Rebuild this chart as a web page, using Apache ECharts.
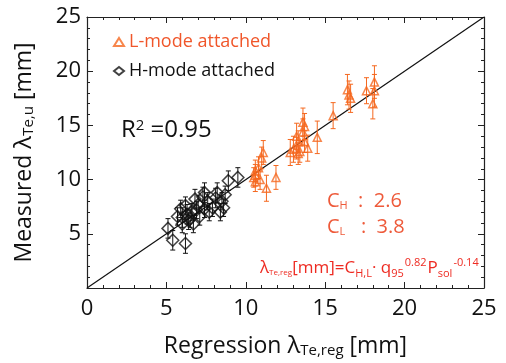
<!DOCTYPE html>
<html><head><meta charset="utf-8">
<script src="https://cdn.jsdelivr.net/npm/echarts@6/dist/echarts.min.js"></script>
<style>html,body{margin:0;padding:0;background:#fff}#c{width:506px;height:363px}</style>
</head><body><div id="c"></div>
<script>
// L-mode attached: regression x, measured y, error (±)
var lModeX = [10.6,10.6,10.6,10.8,11.1,11.0,11.3,11.9,12.8,13.0,13.3,13.2,13.4,13.9,13.2,13.3,13.7,13.6,13.7,13.6,14.5,15.5,16.4,16.5,16.6,17.6,18.1,18.1,18.0,10.5,10.9];
var lModeY = [10.8,10.4,9.8,11.1,12.5,12.0,9.2,10.2,12.5,12.8,12.4,12.9,12.6,12.9,14.0,13.5,13.5,14.4,14.9,15.3,13.9,15.9,18.3,17.8,17.5,18.2,19.0,18.2,17.0,10.2,10.0];
var lModeErr = [1.0,1.0,0.9,1.0,1.1,1.0,1.2,1.1,1.2,1.2,1.0,1.0,1.0,1.2,1.2,1.0,1.0,1.2,1.2,1.3,1.5,1.2,1.4,1.3,1.3,1.2,1.5,1.5,1.4,0.9,0.9];
// H-mode attached
var hModeX = [5.1,5.4,6.2,6.0,6.0,6.3,6.4,6.7,6.8,7.0,7.3,7.4,7.6,7.7,7.9,8.1,8.2,8.5,8.6,8.4,8.9,9.5,5.9,6.5,5.7,6.6,7.1,7.4,8.7,6.2,6.9];
var hModeY = [5.5,4.4,4.1,5.9,6.5,6.8,6.2,5.9,8.2,7.7,8.4,8.8,8.0,7.0,7.4,8.3,8.8,8.0,7.4,7.0,9.9,10.2,7.3,6.4,6.6,7.0,6.6,7.3,8.6,7.6,7.2];
var hModeErr = [0.9,0.9,0.9,0.8,0.9,0.9,0.8,0.8,0.9,0.8,0.9,0.9,0.8,0.8,0.8,0.9,0.9,0.8,0.8,0.8,0.9,0.9,0.8,0.8,0.8,0.8,0.8,0.8,0.8,0.8,0.8];
var xTicks = [0,5,10,15,20,25];
var fitLine = [[0,0],[25,25]];

var orange = '#f5681f';
function pts(xs, ys, es){ return xs.map(function(x,i){return [x, ys[i], ys[i]-es[i], ys[i]+es[i]];}); }
function errRender(color){
  return function(params, api){
    var x = api.value(0), lo = api.value(2), hi = api.value(3);
    var p1 = api.coord([x, lo]), p2 = api.coord([x, hi]);
    var w = 2.5;
    var st = {stroke: color, lineWidth: 1};
    return {type:'group', children:[
      {type:'line', shape:{x1:p1[0],y1:p1[1],x2:p2[0],y2:p2[1]}, style:st},
      {type:'line', shape:{x1:p1[0]-w,y1:p1[1],x2:p1[0]+w,y2:p1[1]}, style:st},
      {type:'line', shape:{x1:p2[0]-w,y1:p2[1],x2:p2[0]+w,y2:p2[1]}, style:st}
    ]};
  };
}
var font = 'Open Sans';
var red = '#ee2b22', cRed = '#ee5a3a';
var chart = echarts.init(document.getElementById('c'));
var axisCommon = {
  type:'value', min:0, max:25, interval:5,
  axisLine:{show:true, onZero:false, lineStyle:{color:'#222', width:1.2}},
  axisTick:{show:true, inside:true, length:6, lineStyle:{color:'#222'}},
  minorTick:{show:true, splitNumber:5, length:3, lineStyle:{color:'#222'}},
  splitLine:{show:false}
};
var nameRich = {l:{fontSize:24, color:'#111', fontFamily:font}, s:{fontSize:15, color:'#111', fontFamily:font, padding:[9,0,0,0]}};
chart.setOption({
  animation:false,
  textStyle:{fontFamily:font},
  grid:{left:87, right:22, top:17, bottom:67},
  legend:{
    left:108, top:28, orient:'vertical', itemGap:11, itemWidth:10, itemHeight:8,
    textStyle:{fontFamily:font, fontSize:18},
    data:[{name:'L-mode attached', textStyle:{color:'#f0562a'}},
          {name:'H-mode attached', textStyle:{color:'#111'}}]
  },
  xAxis:[
    Object.assign({}, axisCommon, {position:'bottom',
      axisLabel:{fontSize:22, color:'#111', margin:10, fontFamily:font},
      name:'Regression {l|λ}{s|Te,reg} [mm]', nameLocation:'middle', nameGap:46,
      nameTextStyle:{fontSize:23, color:'#111', fontFamily:font, rich:nameRich}
    }),
    Object.assign({}, axisCommon, {position:'top', axisLabel:{show:false}})
  ],
  yAxis:[
    Object.assign({}, axisCommon, {position:'left',
      axisLabel:{fontSize:22, color:'#111', margin:6, fontFamily:font,
        formatter:function(v){return v===0?'':String(v);}},
      name:'Measured {l|λ}{s|Te,u} [mm]', nameLocation:'middle', nameGap:51,
      nameTextStyle:{fontSize:23, color:'#111', fontFamily:font, rich:nameRich}
    }),
    Object.assign({}, axisCommon, {position:'right', axisLabel:{show:false}})
  ],
  series:[
    {type:'line', data:fitLine, symbol:'none', lineStyle:{color:'#111', width:1.2}, silent:true, z:1},
    {type:'scatter', name:'L-mode attached', data:lModeX.map(function(x,i){return [x,lModeY[i]];}),
      symbol:'triangle', symbolSize:8, itemStyle:{color:'rgba(255,255,255,0)', borderColor:orange, borderWidth:1.5}, z:3},
    {type:'scatter', name:'H-mode attached', data:hModeX.map(function(x,i){return [x,hModeY[i]];}),
      symbol:'diamond', symbolSize:12, itemStyle:{color:'rgba(255,255,255,0)', borderColor:'#111', borderWidth:1.5}, z:3},
    {type:'custom', name:'L-err', data:pts(lModeX,lModeY,lModeErr), renderItem:errRender(orange), encode:{x:0,y:[1,2,3]}, z:2},
    {type:'custom', name:'H-err', data:pts(hModeX,hModeY,hModeErr), renderItem:errRender('#111'), encode:{x:0,y:[1,2,3]}, z:2}
  ],
  graphic:[
    {type:'text', left:121, top:118, style:{text:'R{sup|2} =0.95', fontSize:24, fill:'#111', fontFamily:font,
      rich:{sup:{fontSize:15, fill:'#111', fontFamily:font, padding:[0,0,10,0]}}}},
    {type:'text', left:327, top:191, style:{text:'C{sub|H}  :  2.6', fontSize:20, fill:cRed, fontFamily:font,
      rich:{sub:{fontSize:11, fill:cRed, fontFamily:font, padding:[10,0,0,0]}}}},
    {type:'text', left:327, top:217, style:{text:'C{sub|L}   :  3.8', fontSize:20, fill:cRed, fontFamily:font,
      rich:{sub:{fontSize:11, fill:cRed, fontFamily:font, padding:[10,0,0,0]}}}},
    {type:'text', left:260, top:257, style:{text:'λ{tiny|Te,reg}[mm]=C{sub|H,L}· q{sub|95}{sup|0.82}P{sub|sol}{sup|-0.14}', fontSize:17, fill:red, fontFamily:font,
      rich:{tiny:{fontSize:8, fill:red, fontFamily:font, padding:[10,0,0,0]},
            sub:{fontSize:11, fill:red, fontFamily:font, padding:[11,0,0,0]},
            sup:{fontSize:11, fill:red, fontFamily:font, padding:[0,1,11,1]}}}}
  ]
});
</script></body></html>
